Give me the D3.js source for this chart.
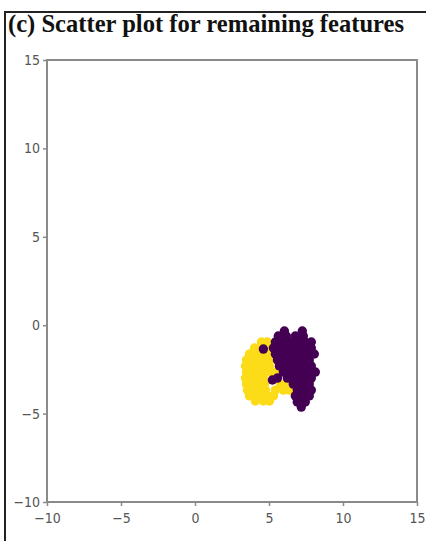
<!DOCTYPE html>
<html>
<head>
<meta charset="utf-8">
<script src="https://cdn.jsdelivr.net/npm/d3@7/dist/d3.min.js"></script>
<style>
  html, body { margin: 0; padding: 0; background: #fff; }
  svg { display: block; }
</style>
</head>
<body>
<script>
// Axis ticks
const xTicks = [-10, -5, 0, 5, 10, 15];
const yTicks = [-10, -5, 0, 5, 10, 15];

// Cluster 1 (yellow): [x, y]
const clusterYellowX = [
  4.49, 4.89,
  4.02, 4.42, 4.82,
  3.68, 4.08, 4.49, 4.89,
  3.48, 3.88, 4.29, 4.69, 5.09,
  3.41, 3.81, 4.22, 4.62, 5.03,
  3.48, 3.88, 4.29, 4.69, 5.09, 5.50,
  3.41, 3.81, 4.22, 4.62,
  3.48, 3.88, 4.29, 4.69, 5.77, 6.17,
  3.54, 3.95, 4.35, 4.76, 5.43, 5.97, 6.37,
  3.68, 4.08, 4.49, 4.89, 5.30,
  4.08, 4.62, 5.03
];
const clusterYellowY = [
  -0.95, -0.95,
  -1.29, -1.29, -1.29,
  -1.63, -1.63, -1.63, -1.63,
  -1.97, -1.97, -1.97, -1.97, -1.97,
  -2.31, -2.31, -2.31, -2.31, -2.31,
  -2.65, -2.65, -2.65, -2.65, -2.65, -2.65,
  -2.99, -2.99, -2.99, -2.99,
  -3.33, -3.33, -3.33, -3.33, -3.33, -3.33,
  -3.67, -3.67, -3.67, -3.67, -3.67, -3.67, -3.67,
  -4.00, -4.00, -4.00, -4.00, -4.00,
  -4.29, -4.29, -4.29
];

// Cluster 2 (purple): [x, y]
const clusterPurpleX = [
  6.04, 7.25,
  5.63, 6.17, 6.78, 7.32,
  5.43, 5.84, 6.37, 6.91, 7.45, 7.86,
  5.30, 5.70, 6.24, 6.78, 7.32, 7.86,
  5.43, 5.97, 6.51, 7.05, 7.59, 8.06,
  5.57, 6.11, 6.64, 7.18, 7.72,
  5.70, 6.24, 6.78, 7.32, 7.86,
  5.97, 6.51, 7.05, 7.59, 8.13,
  5.57, 6.24, 6.78, 7.32, 7.86,
  6.64, 7.18, 7.72,
  6.91, 7.45, 7.86,
  6.78, 7.32, 7.72,
  6.91, 7.45,
  7.18,
  4.62, 5.23
];
const clusterPurpleY = [
  -0.33, -0.33,
  -0.61, -0.61, -0.61, -0.61,
  -0.95, -0.95, -0.95, -0.95, -0.95, -0.95,
  -1.29, -1.29, -1.29, -1.29, -1.29, -1.29,
  -1.63, -1.63, -1.63, -1.63, -1.63, -1.63,
  -1.97, -1.97, -1.97, -1.97, -1.97,
  -2.31, -2.31, -2.31, -2.31, -2.31,
  -2.65, -2.65, -2.65, -2.65, -2.65,
  -2.99, -2.99, -2.99, -2.99, -2.99,
  -3.33, -3.33, -3.33,
  -3.67, -3.67, -3.67,
  -4.00, -4.00, -4.00,
  -4.34, -4.34,
  -4.63,
  -1.35, -3.10
];

const W = 426, H = 541;
const plot = { left: 47, right: 417, top: 60, bottom: 502 };

const svg = d3.select("body").append("svg")
  .attr("width", W).attr("height", H);

// outer figure frame (top and left edges)
svg.append("path")
  .attr("d", `M5,${H} L5,12 L${W},12`)
  .attr("fill", "none")
  .attr("stroke", "#222")
  .attr("stroke-width", 2);

// title
svg.append("text")
  .attr("x", 8).attr("y", 32)
  .attr("font-family", "'Liberation Serif', 'Times New Roman', serif")
  .attr("font-weight", "bold")
  .attr("font-size", 25)
  .attr("textLength", 396)
  .attr("lengthAdjust", "spacingAndGlyphs")
  .attr("fill", "#111")
  .text("(c) Scatter plot for remaining features");

const x = d3.scaleLinear().domain([-10, 15]).range([plot.left, plot.right]);
const y = d3.scaleLinear().domain([-10, 15]).range([plot.bottom, plot.top]);

const axisColor = "#8a8a8a";
const tickFont = "'DejaVu Sans Condensed', 'Liberation Sans Narrow', 'DejaVu Sans', sans-serif";

// points
const yellowPts = clusterYellowX.map((v, i) => [v, clusterYellowY[i]]);
const purplePts = clusterPurpleX.map((v, i) => [v, clusterPurpleY[i]]);

const gPts = svg.append("g");
gPts.selectAll("circle.y").data(yellowPts).join("circle")
  .attr("class", "y")
  .attr("cx", d => x(d[0])).attr("cy", d => y(d[1]))
  .attr("r", 4.7).attr("fill", "#fcdc18");
gPts.selectAll("circle.p").data(purplePts).join("circle")
  .attr("class", "p")
  .attr("cx", d => x(d[0])).attr("cy", d => y(d[1]))
  .attr("r", 4.7).attr("fill", "#440154");

// axes
const xAxis = svg.append("g")
  .attr("transform", `translate(0,${plot.bottom})`)
  .call(d3.axisBottom(x).tickValues(xTicks).tickSize(4).tickPadding(7).tickFormat(d => d < 0 ? "\u2212" + Math.abs(d) : d));
const yAxis = svg.append("g")
  .attr("transform", `translate(${plot.left},0)`)
  .call(d3.axisLeft(y).tickValues(yTicks).tickSize(4).tickPadding(3).tickFormat(d => d < 0 ? "\u2212" + Math.abs(d) : d));

[xAxis, yAxis].forEach(a => {
  a.select(".domain").remove();
  a.selectAll(".tick line").attr("stroke", axisColor).attr("stroke-width", 1.5);
  a.selectAll(".tick text")
    .attr("fill", "#555")
    .attr("font-family", tickFont)
    .attr("font-size", 14);
});

// plot frame
svg.append("rect")
  .attr("x", plot.left).attr("y", plot.top)
  .attr("width", plot.right - plot.left)
  .attr("height", plot.bottom - plot.top)
  .attr("fill", "none")
  .attr("stroke", axisColor)
  .attr("stroke-width", 2);
</script>
</body>
</html>
